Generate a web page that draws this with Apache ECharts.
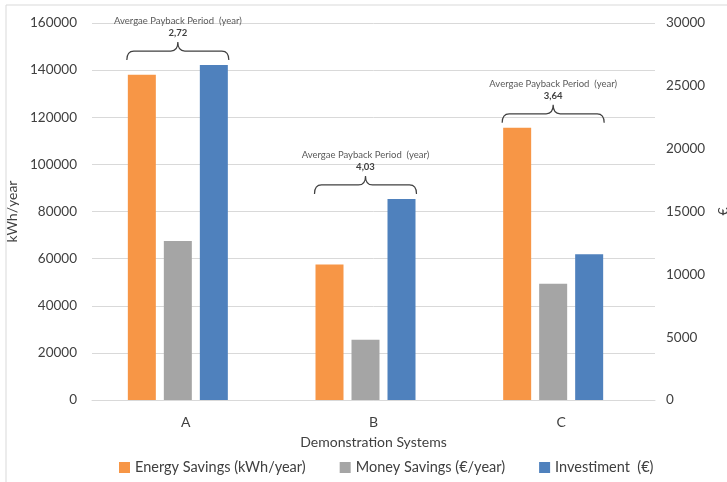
<!DOCTYPE html>
<html>
<head>
<meta charset="utf-8">
<title>Demonstration Systems</title>
<script src="https://cdn.jsdelivr.net/npm/echarts@6/dist/echarts.min.js"></script>
<style>
  html, body { margin: 0; padding: 0; background: #ffffff; }
  #chart { width: 727px; height: 482px; }
</style>
</head>
<body>
<div id="chart"></div>
<script>
// Demonstration systems
const categories = ['A', 'B', 'C'];

// Energy savings, kWh/year (left axis)
const energySavings = [138000, 57500, 115500];
// Money savings, €/year (right axis)
const moneySavings = [12650, 4800, 9250];
// Investment, € (right axis)
const investment = [26650, 16000, 11600];
// Average payback period, years
const paybackYears = [2.72, 4.03, 3.64];

// Axis ranges
const leftMax = 160000, leftStep = 20000;
const rightMax = 30000, rightStep = 5000;

const FONT = 'Lato, "Open Sans", "Liberation Sans", sans-serif';
const TEXT = '#404040';
const GRID = '#d9d9d9';
const BAR_W = 28;
const BAR_GAP = 8;
// an empty slot after the third bar pushes each group slightly left of its label
const SPACER_W = 8;
const GROUP_SHIFT = -(BAR_GAP + SPACER_W) / 2;

// Height of the tallest bar in each group, in left-axis units
const scale = leftMax / rightMax;
const groupTop = categories.map((c, i) =>
  Math.max(energySavings[i], moneySavings[i] * scale, investment[i] * scale));

const braceData = categories.map((c, i) => [i, groupTop[i], paybackYears[i]]);
const spacer = categories.map(() => 0);

function renderBrace(params, api) {
  const i = api.value(0);
  const p = api.coord([i, api.value(1)]);
  const half = (3 * BAR_W + 2 * BAR_GAP) / 2 + 1;
  const xc = p[0] + GROUP_SHIFT, x0 = xc - half, x1 = xc + half;
  const yb = p[1] - 5, yh = yb - 9, ya = yh - 9;
  const r = 7;
  const d = [
    'M', x0, yb,
    'Q', x0, yh, x0 + r, yh,
    'L', xc - r, yh,
    'Q', xc, yh, xc, ya,
    'Q', xc, yh, xc + r, yh,
    'L', x1 - r, yh,
    'Q', x1, yh, x1, yb
  ].join(' ');
  const years = api.value(2).toFixed(2).replace('.', ',');
  return {
    type: 'group',
    children: [
      {
        type: 'path',
        shape: { pathData: d },
        style: { fill: null, stroke: '#404040', lineWidth: 1.2 }
      },
      {
        type: 'text',
        style: {
          text: 'Avergae Payback Period  (year)',
          x: xc, y: ya - 21,
          align: 'center', verticalAlign: 'middle',
          font: '9.5px ' + FONT, fill: '#595959'
        }
      },
      {
        type: 'text',
        style: {
          text: years,
          x: xc, y: ya - 9,
          align: 'center', verticalAlign: 'middle',
          font: 'bold 9.5px ' + FONT, fill: '#404040'
        }
      }
    ]
  };
}

const plain = v => String(v);

const chart = echarts.init(document.getElementById('chart'), null, { renderer: 'canvas' });

chart.setOption({
  animation: false,
  backgroundColor: '#ffffff',
  textStyle: { fontFamily: FONT },
  graphic: [{
    type: 'rect',
    shape: { x: 6, y: 5, width: 760, height: 520 },
    style: { fill: null, stroke: '#d9d9d9', lineWidth: 1 },
    silent: true
  }],
  grid: { left: 92, right: 72, top: 23, bottom: 82, outerBoundsMode: 'none', containLabel: false },
  legend: {
    bottom: 2,
    left: 114,
    itemWidth: 11,
    itemHeight: 11,
    itemGap: 34,
    icon: 'rect',
    textStyle: { color: TEXT, fontSize: 14.5, fontFamily: FONT },
    data: ['Energy Savings (kWh/year)', 'Money Savings (€/year)', 'Investiment  (€)']
  },
  xAxis: {
    type: 'category',
    data: categories,
    name: 'Demonstration Systems',
    nameLocation: 'middle',
    nameGap: 35,
    nameTextStyle: { color: TEXT, fontSize: 14, fontFamily: FONT },
    axisLine: { lineStyle: { color: GRID } },
    axisTick: { show: false },
    axisLabel: { color: TEXT, fontSize: 14, margin: 15, fontFamily: FONT }
  },
  yAxis: [
    {
      type: 'value',
      min: 0, max: leftMax, interval: leftStep,
      name: 'kWh/year',
      nameLocation: 'middle',
      nameRotate: 90,
      nameGap: 64,
      nameTextStyle: { color: TEXT, fontSize: 14, fontFamily: FONT },
      axisLine: { show: false },
      axisTick: { show: false },
      axisLabel: { color: TEXT, fontSize: 13.5, margin: 15, fontFamily: FONT, formatter: plain },
      splitLine: { lineStyle: { color: GRID } }
    },
    {
      type: 'value',
      min: 0, max: rightMax, interval: rightStep,
      name: '€',
      nameLocation: 'middle',
      nameRotate: 90,
      nameGap: 60,
      nameTextStyle: { color: TEXT, fontSize: 14, fontFamily: FONT },
      axisLine: { show: false },
      axisTick: { show: false },
      axisLabel: { color: TEXT, fontSize: 13.5, margin: 11, fontFamily: FONT, formatter: plain },
      splitLine: { show: false }
    }
  ],
  series: [
    {
      name: 'Energy Savings (kWh/year)',
      type: 'bar',
      yAxisIndex: 0,
      barWidth: BAR_W,
      itemStyle: { color: '#F79646' },
      data: energySavings
    },
    {
      name: 'Money Savings (€/year)',
      type: 'bar',
      yAxisIndex: 1,
      barWidth: BAR_W,
      itemStyle: { color: '#A5A5A5' },
      data: moneySavings
    },
    {
      name: 'Investiment  (€)',
      type: 'bar',
      yAxisIndex: 1,
      barWidth: BAR_W,
      itemStyle: { color: '#4F81BD' },
      data: investment
    },
    {
      name: 'spacer',
      type: 'bar',
      yAxisIndex: 1,
      barWidth: SPACER_W,
      barGap: (BAR_GAP / BAR_W * 100) + '%',
      silent: true,
      itemStyle: { color: 'rgba(0,0,0,0)' },
      data: spacer
    },
    {
      name: 'payback',
      type: 'custom',
      yAxisIndex: 0,
      clip: false,
      z: 10,
      silent: true,
      encode: { x: 0, y: 1 },
      renderItem: renderBrace,
      data: braceData
    }
  ]
});
</script>
</body>
</html>
